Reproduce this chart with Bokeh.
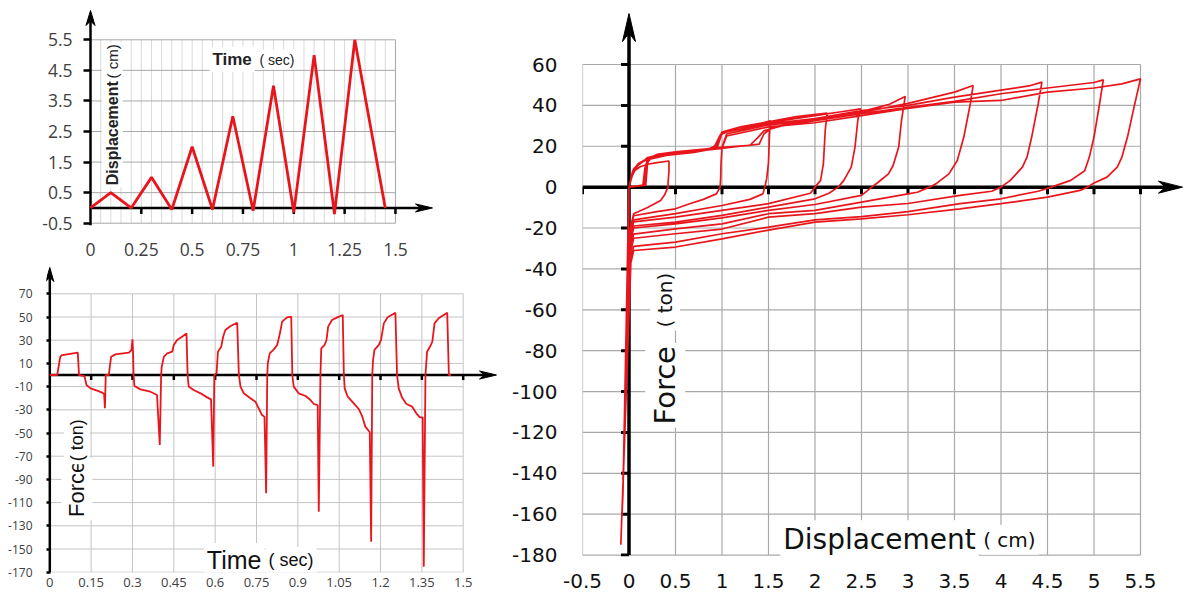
import numpy as np
from bokeh.plotting import figure
from bokeh.models import Range1d, FixedTicker, Label, CustomJSTickFormatter
from bokeh.layouts import row, column
from bokeh.embed import file_html
from bokeh.resources import INLINE

RED = "#e8161c"

# ---------------- Panel 1: displacement history ----------------
DISP_TIME = [0, 0.1, 0.2, 0.3, 0.4, 0.5, 0.6, 0.7, 0.8, 0.9, 1.0, 1.1, 1.2, 1.3, 1.45]
DISP_CM = [0, 0.5, 0, 1, -0.05, 2, -0.05, 3, -0.09, 4, -0.14, 5, -0.2, 5.5, 0]
P1_X_TICKS = [0, 0.25, 0.5, 0.75, 1, 1.25, 1.5]
P1_Y_TICKS = [-0.5, 0.5, 1.5, 2.5, 3.5, 4.5, 5.5]

# ---------------- Panel 2: force history ----------------
FT_TIME = [0, 0.027, 0.038, 0.045, 0.1016, 0.106, 0.126, 0.133, 0.148, 0.172, 0.19, 0.197, 0.2, 0.203,
           0.214, 0.2225, 0.238, 0.287, 0.296, 0.3, 0.302, 0.304, 0.307, 0.329, 0.365, 0.389, 0.399, 0.404,
           0.406, 0.414, 0.426, 0.444, 0.45, 0.462, 0.48, 0.496, 0.5, 0.504, 0.522, 0.547, 0.571, 0.585, 0.593, 0.597,
           0.605, 0.61, 0.622, 0.629, 0.637, 0.656, 0.68, 0.686, 0.692, 0.704, 0.728, 0.746, 0.758, 0.77, 0.779, 0.785, 0.789,
           0.791, 0.798, 0.813, 0.825, 0.835, 0.843, 0.861, 0.876, 0.88, 0.885, 0.903, 0.928, 0.946, 0.958, 0.972, 0.976, 0.982,
           0.985, 0.997, 1.004, 1.01, 1.024, 1.043, 1.063, 1.067, 1.07, 1.081, 1.103, 1.121, 1.133, 1.145, 1.161, 1.166, 1.17,
           1.173, 1.178, 1.194, 1.202, 1.212, 1.226, 1.254, 1.26, 1.266, 1.278, 1.294, 1.315, 1.33, 1.343, 1.353, 1.357, 1.363,
           1.369, 1.381, 1.388, 1.396, 1.411, 1.442, 1.448, 1.456]
FT_FORCE = [0, 0, 15.8, 17.2, 19.3, 0, -1, -8.6, -11.5, -13.5, -15.2, -16.4, -28.7, 0,
            0, 15.8, 17.8, 19.3, 21.5, 30.7, 20, 0, -9.5, -12.4, -14.4, -17.2, -60.3, 0,
            7, 15.8, 18.7, 20.1, 25.9, 30.2, 33, 35.9, 0, -10, -12.9, -15.8, -19.3, -21, -79, 0,
            1.4, 20.1, 24.4, 33, 38.8, 42.2, 45.1, 0, -10, -15.8, -20.1, -23, -28.7, -34.5, -35.9, -102, 0,
            10, 18.7, 22.1, 25.9, 35.9, 46, 49.7, 50.3, 0, -10, -15.8, -18.1, -21.6, -25, -25.9, -117.8, 0,
            23, 25.9, 30.2, 41.7, 47.4, 49.7, 51.7, 0, -11.5, -18.7, -24.4, -29.3, -35.3, -44.5, -49.4, -143.7, 0,
            12.9, 21.6, 25.9, 30.2, 44.5, 49.7, 53.7, 0, -11.5, -19.3, -25, -27.3, -33, -36.5, -36.5, -165.2, 0,
            20.1, 25, 28.7, 44.5, 48.9, 53.7, 0, 0]
P2_X_TICKS = [0, 0.15, 0.3, 0.45, 0.6, 0.75, 0.9, 1.05, 1.2, 1.35, 1.5]
P2_Y_TICKS = [70, 50, 30, 10, -10, -30, -50, -70, -90, -110, -130, -150, -170]

# ---------------- Panel 3: hysteresis loops ----------------
h1_d = [0, 0.02, 0.06, 0.12, 0.2, 0.3, 0.43, 0.43, 0.42, 0.42, 0.38, 0.34, 0.2, 0.05, 0.02, -0.005, 0.0, 0.0]
h1_f = [0, 4, 8, 10, 11.2, 12, 12.8, 8, 2, 0, -4, -6.5, -10, -13, -19, -28, -10, 0]
h2_d = [0, 0.03, 0.08, 0.15, 0.2, 0.3, 0.5, 0.7, 0.9, 1.0, 0.99, 0.985, 0.98, 0.94, 0.8, 0.66, 0.5, 0.3, 0.05, 0.02,
        -0.012, -0.004, -0.002, 0.0]
h2_f = [0, 6, 10, 12.5, 14.5, 15.5, 16.5, 17.5, 18.8, 19.6, 12, 4, 0, -3.3, -6, -8, -10.6, -12, -14, -20,
        -45, -35, -8, 0]
h3_d = [0, 0.15, 0.17, 0.2, 0.3, 0.5, 0.8, 0.93, 0.97, 1.0, 1.2, 1.4, 1.52, 1.51, 1.5, 1.48, 1.46, 1.44, 1.3, 1.0,
        0.5, 0.05, 0.02, -0.02, -0.01, -0.006, -0.002, 0.0]
h3_f = [0, 1, 9, 13.5, 15.5, 16.8, 18, 19.2, 24, 26.5, 28.5, 31, 32.5, 25, 12, 4, 0, -3.3, -6, -9,
        -13, -16, -22, -60, -50, -26, -6, 0]
h4_d = [0, 0.04, 0.1, 0.2, 0.3, 0.5, 0.9, 0.95, 1.0, 1.2, 1.5, 1.8, 2.13, 2.11, 2.09, 2.06, 2.0, 1.95, 1.5, 1.0,
        0.5, 0.05, 0.02, -0.03, -0.02, -0.008, -0.002, 0.0]
h4_f = [0, 7, 11, 14, 16, 17.3, 19, 22, 27, 29.5, 32, 34.5, 36.2, 27.7, 11.4, 3.3, 0, -3, -8.1, -11.4,
        -14.7, -17, -23, -79, -69, -26, -6, 0]
h5_d = [0, 0.16, 0.18, 0.2, 0.3, 0.5, 0.85, 0.92, 0.98, 1.05, 1.3, 1.5, 2.0, 2.3, 2.49, 2.46, 2.43, 2.39, 2.31, 2.25,
        2.15, 2.0, 1.5, 1.0, 0.5, 0.05, 0.02, -0.037, -0.027, -0.008, -0.002, 0.0]
h5_f = [0, 1, 10, 14, 15.8, 16.5, 18.5, 20, 25.5, 27, 29.5, 31.5, 35, 37, 38.3, 32.6, 19.6, 9.8, 3.3, 0,
        -3, -5.7, -9.8, -13.8, -17.1, -19, -25, -95, -85, -26, -6, 0]
h6_d = [0, 0.05, 0.1, 0.2, 0.4, 0.7, 1.0, 1.3, 1.38, 1.45, 1.6, 2.0, 2.5, 2.8, 2.97, 2.93, 2.9, 2.84, 2.79, 2.68,
        2.61, 2.5, 2.0, 1.5, 1.0, 0.5, 0.05, 0.02, -0.04, -0.03, -0.008, -0.002, 0.0]
h6_f = [0, 8, 11.5, 13.5, 15.5, 17, 19.5, 20.5, 24, 27.5, 29.5, 33.4, 37, 40.5, 44.4, 32.6, 19.6, 10.6, 6.5, 2.4,
        0, -4, -8.5, -11.4, -15, -18, -20, -26, -102, -92, -26, -6, 0]
h7_d = [0, 0.17, 0.19, 0.22, 0.4, 0.8, 1.2, 1.4, 1.45, 1.55, 2.0, 2.5, 3.0, 3.5, 3.7, 3.67, 3.6, 3.53, 3.44, 3.3,
        3.23, 3.1, 3.0, 2.5, 2.0, 1.5, 1.0, 0.5, 0.05, 0.02, -0.05, -0.04, -0.01, -0.002, 0.0]
h7_f = [0, 1, 11, 14.5, 16, 18, 20, 21, 26, 29.5, 32.5, 36.5, 41, 46.5, 49.7, 40.8, 24.5, 13, 6.5, 1.6,
        0, -2.5, -3.3, -7.3, -11.4, -13, -18, -20.4, -23, -29, -118, -108, -27, -6, 0]
h8_d = [0, 0.05, 0.12, 0.22, 0.5, 0.95, 1.0, 1.5, 2.0, 2.5, 3.0, 3.5, 4.0, 4.3, 4.44, 4.4, 4.33, 4.28, 4.23, 4.1,
        4.0, 3.9, 3.56, 3.0, 2.5, 2.0, 1.5, 1.0, 0.5, 0.05, 0.02, -0.065, -0.055, -0.012, -0.003, 0.0]
h8_f = [0, 9, 12, 14.5, 16.5, 19.5, 26.5, 31, 33.5, 37.5, 40, 44, 47.5, 49.5, 51.4, 40.8, 24.5, 14.7, 9.8, 3.3,
        0, -2, -4, -8, -9.8, -13, -14.7, -20.5, -22.8, -25, -31, -143, -133, -28, -6, 0]
h9_d = [0, 0.18, 0.2, 0.25, 0.5, 1.0, 1.05, 1.5, 2.0, 2.5, 3.0, 3.5, 4.0, 4.5, 5.0, 5.1, 5.06, 5.0, 4.95, 4.9,
        4.75, 4.54, 4.4, 4.0, 3.56, 3.0, 2.5, 2.0, 1.5, 1.0, 0.5, 0.05, 0.02, -0.075, -0.065, -0.014, -0.003, 0.0]
h9_f = [0, 1, 12, 15, 16.8, 19.5, 26, 30.5, 32.5, 36, 39, 42, 45.7, 48.5, 51.2, 52.5, 40.8, 24.5, 14.7, 8,
        3.3, 0, -2, -5.7, -8.1, -12, -14.4, -16, -19.6, -22.8, -26.9, -29, -35, -160, -150, -30, -6, 0]
h10_d = [0, 0.04, 0.1, 0.2, 0.5, 1.0, 1.05, 1.5, 2.0, 2.5, 3.0, 3.5, 4.0, 4.5, 5.0, 5.3, 5.5, 5.43, 5.36, 5.3,
         5.25, 5.14, 5.0, 4.93, 4.85, 4.5, 4.0, 3.56, 3.0, 2.5, 2.0, 1.5, 1.0, 0.5, 0.05, 0.02, -0.088]
h10_f = [0, 8, 11.5, 14, 16.5, 19, 25, 29.5, 31.5, 35, 38.5, 41.6, 42.4, 46.5, 48.5, 50.5, 53, 39, 24.5, 14.7,
         9.8, 4.9, 2, 0, -1.6, -4.9, -8.1, -10.6, -13.5, -15.5, -17.1, -21, -25.3, -29.3, -31, -37, -175]
P3_X_TICKS = [-0.5, 0, 0.5, 1, 1.5, 2, 2.5, 3, 3.5, 4, 4.5, 5, 5.5]
P3_Y_TICKS = [60, 40, 20, 0, -20, -40, -60, -80, -100, -120, -140, -160, -180]

HYST_D = h1_d + h2_d + h3_d + h4_d + h5_d + h6_d + h7_d + h8_d + h9_d + h10_d
HYST_F = h1_f + h2_f + h3_f + h4_f + h5_f + h6_f + h7_f + h8_f + h9_f + h10_f

PLAIN = CustomJSTickFormatter(code="return (Math.round(tick * 100) / 100).toString();")


# ---------------- helpers ----------------
def base_fig(w, h, xr, yr, b):
    p = figure(width=w, height=h, x_range=Range1d(*xr), y_range=Range1d(*yr),
               output_backend="svg", toolbar_location=None, tools="",
               min_border_left=b[0], min_border_right=b[1], min_border_top=b[2], min_border_bottom=b[3])
    p.frame_align = False
    p.outline_line_color = None
    p.grid.visible = False
    p.background_fill_color = "white"
    p.border_fill_color = "white"
    return p


def style_axis(ax, ticks, font, size, color, standoff):
    ax.ticker = FixedTicker(ticks=ticks)
    ax.formatter = PLAIN
    ax.axis_line_color = None
    ax.major_tick_line_color = None
    ax.minor_tick_line_color = None
    ax.major_tick_out = 0
    ax.major_tick_in = 0
    ax.major_label_text_font = font
    ax.major_label_text_font_size = size
    ax.major_label_text_color = color
    ax.major_label_standoff = standoff


def arrow_head(p, tx, ty, direction, length_px, width_px, xs, ys):
    if direction == "up":
        L = length_px / ys
        W = width_px / 2 / xs
        xx = [tx, tx - W, tx, tx + W]
        yy = [ty, ty - L, ty - 0.7 * L, ty - L]
    else:
        L = length_px / xs
        W = width_px / 2 / ys
        xx = [tx, tx - L, tx - 0.7 * L, tx - L]
        yy = [ty, ty + W, ty, ty - W]
    p.patch(xx, yy, fill_color="black", line_color="black", line_width=1)


def add_label(p, x, y, text, font, size, style="normal", angle=0.0, color="#111111", pad=3):
    p.add_layout(Label(x=x, y=y, text=text, text_font=font, text_font_size=size,
                       text_font_style=style, text_color=color, angle=angle,
                       text_align="left", text_baseline="alphabetic",
                       background_fill_color="white", background_fill_alpha=1.0, padding=pad))


# ================= Panel 1 (top-left) =================
P1_W, P1_H = 500, 264
P1_XS, P1_YS = 203.3, 30.57          # px per unit
P1_FL, P1_FR, P1_FT, P1_FB = 83, 433, 8, 225   # frame edges in px
P1_B = (P1_FL, P1_W - P1_FR, P1_FT, P1_H - P1_FB)
p1_x0 = -(90 - P1_FL) / P1_XS
p1_x1 = p1_x0 + (P1_FR - P1_FL) / P1_XS
p1_y1 = 5.5 + (39.3 - P1_FT) / P1_YS
p1_y0 = p1_y1 - (P1_FB - P1_FT) / P1_YS
p1 = base_fig(P1_W, P1_H, (p1_x0, p1_x1), (p1_y0, p1_y1), P1_B)

minor = np.round(np.arange(0.05, 1.5001, 0.05), 2)
p1.segment(x0=minor, y0=P1_Y_TICKS[0], x1=minor, y1=P1_Y_TICKS[-1], line_color="#dadada", line_width=1)
p1.segment(x0=0, y0=P1_Y_TICKS, x1=P1_X_TICKS[-1], y1=P1_Y_TICKS, line_color="#a8a8a8", line_width=1)
p1.segment(x0=[P1_X_TICKS[-1]], y0=[P1_Y_TICKS[0]], x1=[P1_X_TICKS[-1]], y1=[P1_Y_TICKS[-1]],
           line_color="#a8a8a8", line_width=1)

p1.line([0, 0], [p1_y0, p1_y1 - 12 / P1_YS], line_color="black", line_width=2.5)
arrow_head(p1, 0, p1_y1 - 2 / P1_YS, "up", 15, 9, P1_XS, P1_YS)
p1.line([0, p1_x1 - 12 / P1_XS], [0, 0], line_color="black", line_width=2.5)
arrow_head(p1, p1_x1 - 1 / P1_XS, 0, "right", 17, 8, P1_XS, P1_YS)
p1.scatter(x=P1_X_TICKS[1:], y=-3 / P1_YS, marker="dash", size=6, angle=np.pi / 2,
           line_color="black", line_width=2.5)

p1.line(DISP_TIME, DISP_CM, line_color=RED, line_width=2.8)

style_axis(p1.xaxis[0], P1_X_TICKS, "Open Sans", "17.5px", "#404040", 17)
style_axis(p1.yaxis[0], P1_Y_TICKS, "Open Sans", "17.5px", "#404040", 11)
p1.yaxis[0].major_tick_line_color = "black"
p1.yaxis[0].major_tick_line_width = 2.5
p1.yaxis[0].major_tick_in = 7

add_label(p1, 0.585, 4.855, "Time", "Liberation Sans", "17px", style="bold", color="#222222")
add_label(p1, 0.821, 4.855, "( sec)", "Liberation Sans", "14px", color="#222222", pad=2)
add_label(p1, 0.107, 0.678, "Displacement", "Liberation Sans", "16px", style="bold",
          angle=np.pi / 2, color="#222222", pad=2)
add_label(p1, 0.107, 4.17, "( cm)", "Liberation Sans", "15px", angle=np.pi / 2, color="#222222", pad=2)

# ================= Panel 2 (bottom-left) =================
P2_W, P2_H = 500, 333
P2_XS, P2_YS = 275.6, 1.16
P2_FL, P2_FR, P2_FT, P2_FB = 46, 497, 2, 308   # frame edges in px (relative to this canvas)
P2_B = (P2_FL, P2_W - P2_FR, P2_FT, P2_H - P2_FB)
p2_x0 = -(49.3 - P2_FL) / P2_XS
p2_x1 = p2_x0 + (P2_FR - P2_FL) / P2_XS
p2_y1 = 70 + (29.3 - P2_FT) / P2_YS
p2_y0 = p2_y1 - (P2_FB - P2_FT) / P2_YS
p2 = base_fig(P2_W, P2_H, (p2_x0, p2_x1), (p2_y0, p2_y1), P2_B)

p2.segment(x0=P2_X_TICKS[1:], y0=P2_Y_TICKS[-1], x1=P2_X_TICKS[1:], y1=P2_Y_TICKS[0],
           line_color="#c4c4c4", line_width=1)
p2.segment(x0=0, y0=P2_Y_TICKS, x1=P2_X_TICKS[-1], y1=P2_Y_TICKS, line_color="#c4c4c4", line_width=1)

p2.line([0, 0], [p2_y0, p2_y1 - 10 / P2_YS], line_color="black", line_width=2.5)
arrow_head(p2, 0, p2_y1 - 1 / P2_YS, "up", 14, 8, P2_XS, P2_YS)
p2.line([0, p2_x1 - 12 / P2_XS], [0, 0], line_color="black", line_width=2.5)
arrow_head(p2, p2_x1 - 1 / P2_XS, 0, "right", 17, 8, P2_XS, P2_YS)
p2.scatter(x=P2_X_TICKS[1:], y=-2.5 / P2_YS, marker="dash", size=5, angle=np.pi / 2,
           line_color="black", line_width=2.5)

p2.line(FT_TIME, FT_FORCE, line_color=RED, line_width=1.8)

style_axis(p2.xaxis[0], P2_X_TICKS, "Open Sans", "13px", "#404040", 5)
style_axis(p2.yaxis[0], P2_Y_TICKS, "Open Sans", "12px", "#404040", 14)
p2.yaxis[0].major_tick_line_color = "black"
p2.yaxis[0].major_tick_line_width = 2.5
p2.yaxis[0].major_tick_in = 4

add_label(p2, 0.098, -125, "Force", "Liberation Sans", "22px", angle=np.pi / 2)
add_label(p2, 0.098, -77, "( ton)", "Liberation Sans", "18px", angle=np.pi / 2)
add_label(p2, 0.559, -159.5, "Time", "Liberation Sans", "25px")
add_label(p2, 0.783, -159.5, "( sec)", "Liberation Sans", "18px")

# ================= Panel 3 (right) =================
P3_W, P3_H = 684, 597
P3_XS, P3_YS = 93.0, 2.044
P3_FL, P3_FR, P3_FT, P3_FB = 82, 683, 11, 556   # frame edges in px (relative to this canvas)
P3_B = (P3_FL, P3_W - P3_FR, P3_FT, P3_H - P3_FB)
p3_x0 = -0.5
p3_x1 = p3_x0 + (P3_FR - P3_FL) / P3_XS
p3_y1 = 60 + (64 - P3_FT) / P3_YS
p3_y0 = p3_y1 - (P3_FB - P3_FT) / P3_YS
p3 = base_fig(P3_W, P3_H, (p3_x0, p3_x1), (p3_y0, p3_y1), P3_B)

p3.segment(x0=P3_X_TICKS, y0=P3_Y_TICKS[-1], x1=P3_X_TICKS, y1=P3_Y_TICKS[0],
           line_color="#a9a9a9", line_width=1.2)
p3.segment(x0=P3_X_TICKS[0], y0=P3_Y_TICKS, x1=P3_X_TICKS[-1], y1=P3_Y_TICKS,
           line_color="#a9a9a9", line_width=1.2)

p3.line([0, 0], [P3_Y_TICKS[-1], p3_y1 - 20 / P3_YS], line_color="black", line_width=3.5)
arrow_head(p3, 0, p3_y1 - 2 / P3_YS, "up", 28, 13, P3_XS, P3_YS)
p3.line([P3_X_TICKS[0], p3_x1 - 18 / P3_XS], [0, 0], line_color="black", line_width=3.5)
arrow_head(p3, p3_x1 - 1 / P3_XS, 0, "right", 24, 12, P3_XS, P3_YS)
p3.scatter(x=-4 / P3_XS, y=[v for v in P3_Y_TICKS if v != 0], marker="dash", size=8,
           line_color="black", line_width=3)
p3.scatter(x=[v for v in P3_X_TICKS if v != 0], y=-3.5 / P3_YS, marker="dash", size=7,
           angle=np.pi / 2, line_color="black", line_width=3)

p3.line(HYST_D, HYST_F, line_color=RED, line_width=1.7)

style_axis(p3.xaxis[0], P3_X_TICKS, "DejaVu Sans", "20px", "#111111", 17)
style_axis(p3.yaxis[0], P3_Y_TICKS, "DejaVu Sans", "20px", "#111111", 25)

add_label(p3, 0.389, -117.6, "Force", "DejaVu Sans", "29px", angle=np.pi / 2)
add_label(p3, 0.389, -70.1, "( ton)", "DejaVu Sans", "20px", angle=np.pi / 2)
add_label(p3, 1.626, -172.5, "Displacement", "DejaVu Sans", "28px")
add_label(p3, 3.776, -172.5, "( cm)", "DejaVu Sans", "20px")

layout = row(column(p1, p2), p3)
open("out.html", "w").write(file_html(layout, INLINE))
